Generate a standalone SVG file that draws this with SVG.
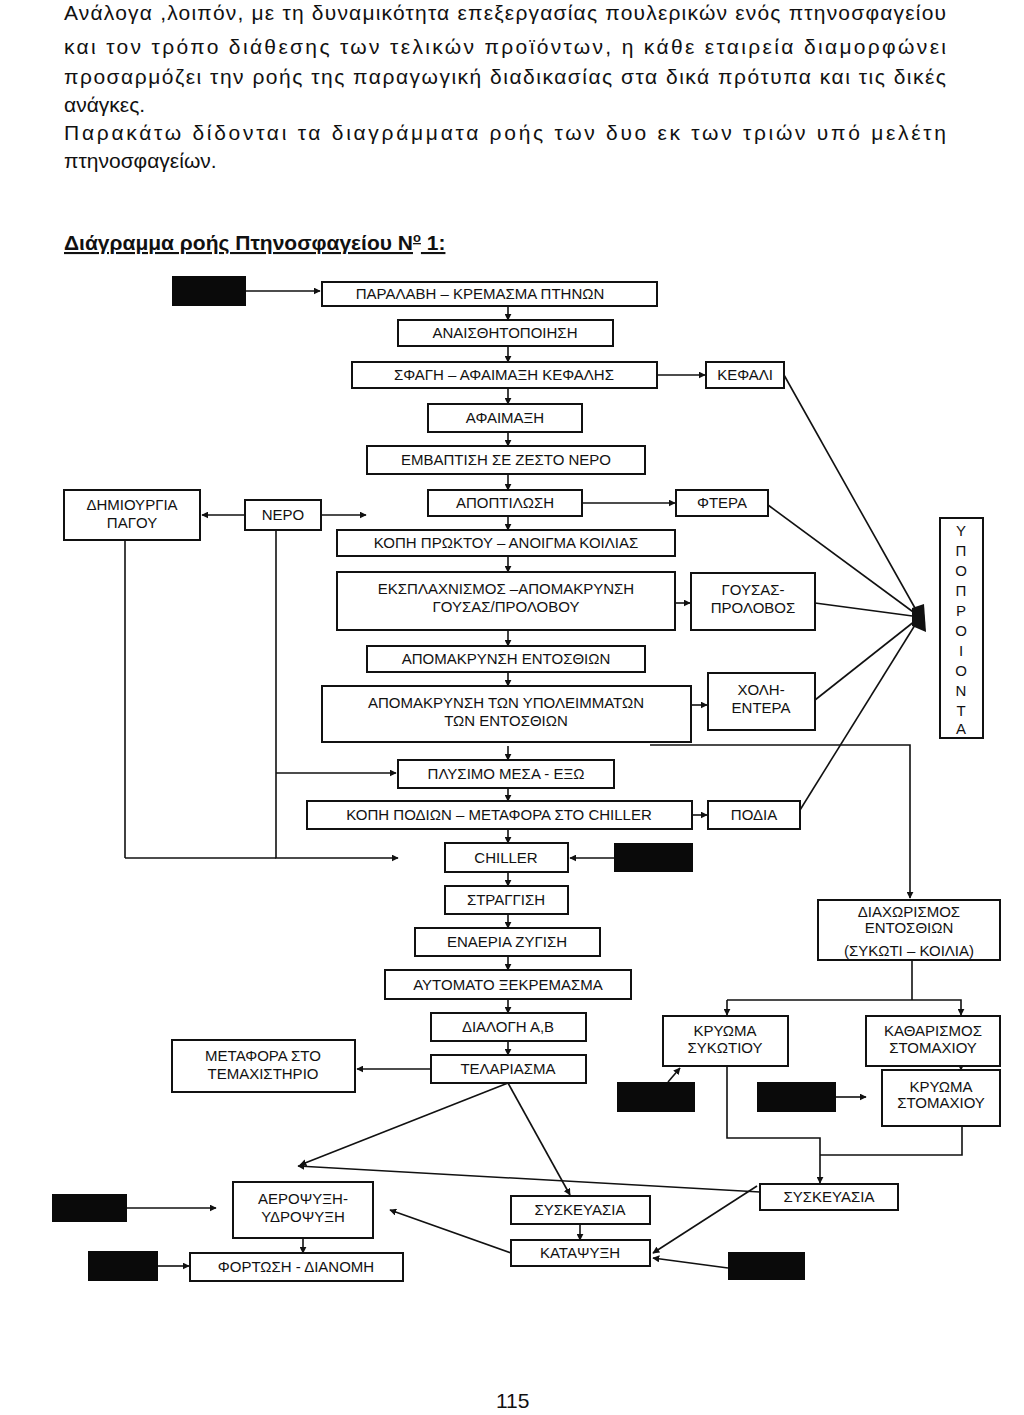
<svg xmlns="http://www.w3.org/2000/svg" width="1024" height="1415" viewBox="0 0 1024 1415">
<defs>
<style>
.p{font-family:"Liberation Sans",Arial,sans-serif;font-size:21px;fill:#111}
.b rect{fill:#fff;stroke:#111;stroke-width:2}
.b text,.t{font-family:"Liberation Sans",Arial,sans-serif;font-size:15px;fill:#111;text-anchor:middle}
.k{fill:#0a0a0a}
#c line,#c polyline{stroke:#111;stroke-width:1.6;fill:none}
.a{marker-end:url(#ar)}
</style>
<marker id="ar" viewBox="0 0 10 10" refX="9" refY="5" markerWidth="7" markerHeight="7" orient="auto" markerUnits="userSpaceOnUse"><path d="M0,0L10,5L0,10z" fill="#111"/></marker>
</defs>
<rect width="1024" height="1415" fill="#fff"/>
<text class="p" x="64" y="20" textLength="882" lengthAdjust="spacing">Ανάλογα ,λοιπόν, με τη δυναμικότητα επεξεργασίας πουλερικών ενός πτηνοσφαγείου</text>
<text class="p" x="64" y="54" textLength="882" lengthAdjust="spacing">και τον τρόπο διάθεσης των τελικών προϊόντων, η κάθε εταιρεία διαμορφώνει</text>
<text class="p" x="64" y="84" textLength="882" lengthAdjust="spacing">προσαρμόζει την ροής της παραγωγική διαδικασίας στα δικά πρότυπα και τις δικές</text>
<text class="p" x="64" y="112">ανάγκες.</text>
<text class="p" x="64" y="140" textLength="882" lengthAdjust="spacing">Παρακάτω δίδονται τα διαγράμματα ροής των δυο εκ των τριών υπό μελέτη</text>
<text class="p" x="64" y="168">πτηνοσφαγείων.</text>
<text class="p" x="64" y="250" style="font-weight:bold;text-decoration:underline">Διάγραμμα ροής Πτηνοσφαγείου N<tspan dy="-8" font-size="13">o</tspan><tspan dy="8"> 1:</tspan></text>
<text class="p" x="496" y="1408" font-size="16">115</text>

<g id="c">
<line class="a" x1="246" y1="291" x2="320" y2="291"/>
<line class="a" x1="508" y1="306" x2="508" y2="320"/>
<line class="a" x1="508" y1="346" x2="508" y2="362"/>
<line class="a" x1="508" y1="388" x2="508" y2="404"/>
<line class="a" x1="508" y1="432" x2="508" y2="446"/>
<line class="a" x1="508" y1="474" x2="508" y2="490"/>
<line class="a" x1="508" y1="516" x2="508" y2="530"/>
<line class="a" x1="508" y1="556" x2="508" y2="572"/>
<line class="a" x1="508" y1="630" x2="508" y2="646"/>
<line class="a" x1="508" y1="672" x2="508" y2="686"/>
<line class="a" x1="508" y1="746" x2="508" y2="760"/>
<line class="a" x1="508" y1="788" x2="508" y2="801"/>
<line class="a" x1="508" y1="829" x2="508" y2="843"/>
<line class="a" x1="508" y1="872" x2="508" y2="886"/>
<line class="a" x1="508" y1="914" x2="508" y2="928"/>
<line class="a" x1="508" y1="956" x2="508" y2="970"/>
<line class="a" x1="508" y1="999" x2="508" y2="1013"/>
<line class="a" x1="508" y1="1041" x2="508" y2="1055"/>
<line class="a" x1="657" y1="375" x2="705" y2="375"/>
<line class="a" x1="582" y1="503" x2="675" y2="503"/>
<line class="a" x1="675" y1="603" x2="690" y2="603"/>
<line class="a" x1="691" y1="705" x2="707" y2="705"/>
<line class="a" x1="692" y1="815" x2="707" y2="815"/>
<line class="a" x1="245" y1="515" x2="202" y2="515"/>
<line class="a" x1="321" y1="515" x2="366" y2="515"/>
<line x1="784" y1="375" x2="920" y2="617"/>
<line x1="768" y1="505" x2="920" y2="617"/>
<line x1="815" y1="603" x2="920" y2="617"/>
<line x1="815" y1="700" x2="920" y2="617"/>
<line x1="800" y1="810" x2="920" y2="617"/>
<polyline points="125,540 125,858"/>
<polyline class="a" points="276,530 276,858 398,858"/>
<line x1="125" y1="858" x2="276" y2="858"/>
<line class="a" x1="276" y1="773" x2="396" y2="773"/>
<line class="a" x1="614" y1="858" x2="570" y2="858"/>
<polyline class="a" points="650,745 910,745 910,898"/>
<line class="a" x1="431" y1="1069" x2="357" y2="1069"/>
<polyline points="912,960 912,1000"/>
<polyline class="a" points="727,1000 727,1015"/>
<polyline class="a" points="727,1000 961,1000 961,1015"/>
<line class="a" x1="668" y1="1082" x2="680" y2="1068"/>
<line class="a" x1="836" y1="1097" x2="866" y2="1097"/>
<line class="a" x1="961" y1="1066" x2="961" y2="1070"/>
<polyline class="a" points="727,1066 727,1138 820,1138 820,1183"/>
<polyline points="962,1126 962,1155 820,1155"/>
<line class="a" x1="508" y1="1083" x2="300" y2="1165"/>
<line class="a" x1="508" y1="1083" x2="570" y2="1195"/>
<line class="a" x1="760" y1="1192" x2="298" y2="1166"/>
<line class="a" x1="757" y1="1186" x2="653" y2="1253"/>
<line class="a" x1="511" y1="1253" x2="390" y2="1210"/>
<line class="a" x1="580" y1="1224" x2="580" y2="1240"/>
<line class="a" x1="728" y1="1268" x2="653" y2="1258"/>
<line class="a" x1="303" y1="1238" x2="303" y2="1253"/>
<line class="a" x1="127" y1="1208" x2="216" y2="1208"/>
<line class="a" x1="158" y1="1266" x2="189" y2="1266"/>
<path d="M912,608L924,604L926,632L912,626z" fill="#111"/>
</g>

<g id="blk">
<rect class="k" x="172" y="276" width="74" height="30"/>
<rect class="k" x="614" y="843" width="79" height="29"/>
<rect class="k" x="617" y="1082" width="78" height="30"/>
<rect class="k" x="757" y="1082" width="79" height="30"/>
<rect class="k" x="52" y="1194" width="75" height="28"/>
<rect class="k" x="88" y="1251" width="70" height="30"/>
<rect class="k" x="728" y="1252" width="77" height="28"/>
</g>

<g id="n1" class="b"><rect x="322" y="282" width="335" height="24"/><text x="480" y="299">ΠΑΡΑΛΑΒΗ – ΚΡΕΜΑΣΜΑ ΠΤΗΝΩΝ</text></g>
<g id="n2" class="b"><rect x="398" y="320" width="215" height="26"/><text x="505" y="338">ΑΝΑΙΣΘΗΤΟΠΟΙΗΣΗ</text></g>
<g id="n3" class="b"><rect x="352" y="362" width="305" height="26"/><text x="504" y="380">ΣΦΑΓΗ – ΑΦΑΙΜΑΞΗ ΚΕΦΑΛΗΣ</text></g>
<g id="n3b" class="b"><rect x="706" y="362" width="78" height="26"/><text x="745" y="380">ΚΕΦΑΛΙ</text></g>
<g id="n4" class="b"><rect x="428" y="404" width="154" height="28"/><text x="505" y="423">ΑΦΑΙΜΑΞΗ</text></g>
<g id="n5" class="b"><rect x="367" y="446" width="278" height="28"/><text x="506" y="465">ΕΜΒΑΠΤΙΣΗ ΣΕ ΖΕΣΤΟ ΝΕΡΟ</text></g>
<g id="n6" class="b"><rect x="428" y="490" width="154" height="26"/><text x="505" y="508">ΑΠΟΠΤΙΛΩΣΗ</text></g>
<g id="n6b" class="b"><rect x="676" y="490" width="92" height="26"/><text x="722" y="508">ΦΤΕΡΑ</text></g>
<g id="ice" class="b"><rect x="64" y="490" width="136" height="50"/><text x="132" y="510">ΔΗΜΙΟΥΡΓΙΑ</text><text x="132" y="528">ΠΑΓΟΥ</text></g>
<g id="water" class="b"><rect x="245" y="500" width="76" height="30"/><text x="283" y="520">ΝΕΡΟ</text></g>
<g id="n7" class="b"><rect x="337" y="530" width="338" height="26"/><text x="506" y="548">ΚΟΠΗ ΠΡΩΚΤΟΥ – ΑΝΟΙΓΜΑ ΚΟΙΛΙΑΣ</text></g>
<g id="n8" class="b"><rect x="337" y="572" width="338" height="58"/><text x="506" y="594">ΕΚΣΠΛΑΧΝΙΣΜΟΣ –ΑΠΟΜΑΚΡΥΝΣΗ</text><text x="506" y="612">ΓΟΥΣΑΣ/ΠΡΟΛΟΒΟΥ</text></g>
<g id="n8b" class="b"><rect x="691" y="573" width="124" height="57"/><text x="753" y="595">ΓΟΥΣΑΣ-</text><text x="753" y="613">ΠΡΟΛΟΒΟΣ</text></g>
<g id="n9" class="b"><rect x="367" y="646" width="278" height="26"/><text x="506" y="664">ΑΠΟΜΑΚΡΥΝΣΗ ΕΝΤΟΣΘΙΩΝ</text></g>
<g id="n10" class="b"><rect x="322" y="686" width="369" height="56"/><text x="506" y="708">ΑΠΟΜΑΚΡΥΝΣΗ ΤΩΝ ΥΠΟΛΕΙΜΜΑΤΩΝ</text><text x="506" y="726">ΤΩΝ ΕΝΤΟΣΘΙΩΝ</text></g>
<g id="n10b" class="b"><rect x="708" y="673" width="107" height="57"/><text x="761" y="695">ΧΟΛΗ-</text><text x="761" y="713">ΕΝΤΕΡΑ</text></g>
<g id="byp" class="b"><rect x="940" y="518" width="43" height="220"/>
<text x="961" y="536">Υ</text><text x="961" y="556">Π</text><text x="961" y="576">Ο</text><text x="961" y="596">Π</text><text x="961" y="616">Ρ</text><text x="961" y="636">Ο</text><text x="961" y="656">Ι</text><text x="961" y="676">Ο</text><text x="961" y="696">Ν</text><text x="961" y="716">Τ</text><text x="961" y="734">Α</text></g>
<g id="n11" class="b"><rect x="398" y="760" width="216" height="28"/><text x="506" y="779">ΠΛΥΣΙΜΟ ΜΕΣΑ - ΕΞΩ</text></g>
<g id="n12" class="b"><rect x="307" y="801" width="385" height="28"/><text x="499" y="820">ΚΟΠΗ ΠΟΔΙΩΝ – ΜΕΤΑΦΟΡΑ ΣΤΟ CHILLER</text></g>
<g id="n12b" class="b"><rect x="708" y="801" width="92" height="28"/><text x="754" y="820">ΠΟΔΙΑ</text></g>
<g id="n13" class="b"><rect x="445" y="843" width="123" height="29"/><text x="506" y="863">CHILLER</text></g>
<g id="n14" class="b"><rect x="445" y="886" width="123" height="28"/><text x="506" y="905">ΣΤΡΑΓΓΙΣΗ</text></g>
<g id="n15" class="b"><rect x="415" y="928" width="185" height="28"/><text x="507" y="947">ΕΝΑΕΡΙΑ ΖΥΓΙΣΗ</text></g>
<g id="n16" class="b"><rect x="385" y="970" width="246" height="29"/><text x="508" y="990">ΑΥΤΟΜΑΤΟ ΞΕΚΡΕΜΑΣΜΑ</text></g>
<g id="n17" class="b"><rect x="431" y="1013" width="155" height="28"/><text x="508" y="1032">ΔΙΑΛΟΓΗ Α,Β</text></g>
<g id="n18" class="b"><rect x="431" y="1055" width="155" height="28"/><text x="508" y="1074">ΤΕΛΑΡΙΑΣΜΑ</text></g>
<g id="n19" class="b"><rect x="172" y="1040" width="183" height="52"/><text x="263" y="1061">ΜΕΤΑΦΟΡΑ ΣΤΟ</text><text x="263" y="1079">ΤΕΜΑΧΙΣΤΗΡΙΟ</text></g>
<g id="d1" class="b"><rect x="818" y="900" width="182" height="60"/><text x="909" y="917" font-size="12">ΔΙΑΧΩΡΙΣΜΟΣ</text><text x="909" y="933" font-size="12">ΕΝΤΟΣΘΙΩΝ</text><text x="909" y="956" font-size="12">(ΣΥΚΩΤΙ – ΚΟΙΛΙΑ)</text></g>
<g id="d2" class="b"><rect x="663" y="1016" width="125" height="50"/><text x="725" y="1036" font-size="12">ΚΡΥΩΜΑ</text><text x="725" y="1053" font-size="12">ΣΥΚΩΤΙΟΥ</text></g>
<g id="d3" class="b"><rect x="866" y="1016" width="134" height="50"/><text x="933" y="1036" font-size="12">ΚΑΘΑΡΙΣΜΟΣ</text><text x="933" y="1053" font-size="12">ΣΤΟΜΑΧΙΟΥ</text></g>
<g id="d4" class="b"><rect x="882" y="1070" width="118" height="56"/><text x="941" y="1092" font-size="12">ΚΡΥΩΜΑ</text><text x="941" y="1108" font-size="12">ΣΤΟΜΑΧΙΟΥ</text></g>
<g id="d5" class="b"><rect x="760" y="1184" width="138" height="26"/><text x="829" y="1202">ΣΥΣΚΕΥΑΣΙΑ</text></g>
<g id="e1" class="b"><rect x="233" y="1182" width="140" height="56"/><text x="303" y="1204">ΑΕΡΟΨΥΞΗ-</text><text x="303" y="1222">ΥΔΡΟΨΥΞΗ</text></g>
<g id="e2" class="b"><rect x="511" y="1196" width="139" height="28"/><text x="580" y="1215">ΣΥΣΚΕΥΑΣΙΑ</text></g>
<g id="e3" class="b"><rect x="511" y="1240" width="139" height="26"/><text x="580" y="1258">ΚΑΤΑΨΥΞΗ</text></g>
<g id="e4" class="b"><rect x="190" y="1253" width="213" height="28"/><text x="296" y="1272">ΦΟΡΤΩΣΗ - ΔΙΑΝΟΜΗ</text></g>
</svg>
